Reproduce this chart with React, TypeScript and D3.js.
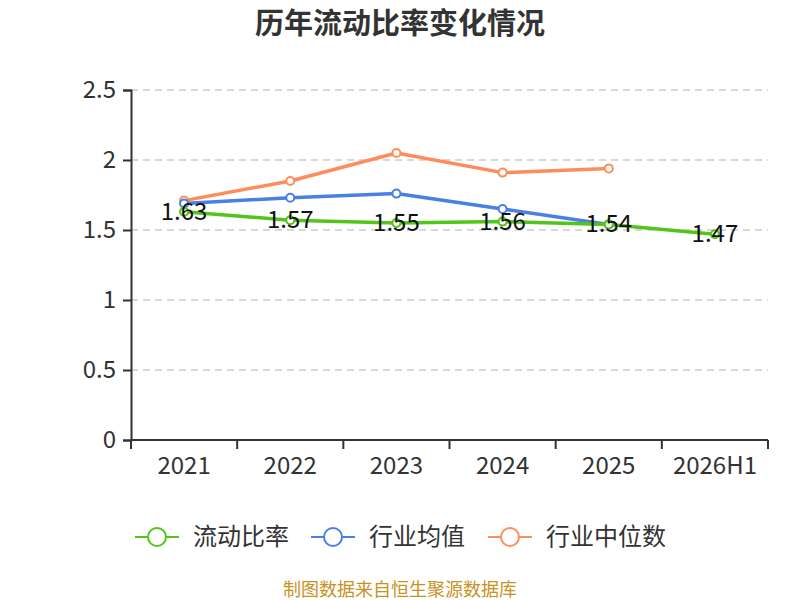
import React, { useEffect, useRef } from 'react';
import * as d3 from 'd3';

const categories = ['2021', '2022', '2023', '2024', '2025', '2026H1'];
const currentRatio = [1.63, 1.57, 1.55, 1.56, 1.54, 1.47];
const industryAvg = [1.69, 1.73, 1.76, 1.65, 1.54];
const industryMedian = [1.71, 1.85, 2.05, 1.91, 1.94];
const yTicks = [0, 0.5, 1, 1.5, 2, 2.5];

const seriesList = [
  { name: '流动比率', values: currentRatio, color: '#52c41a' },
  { name: '行业均值', values: industryAvg, color: '#4a7fe3' },
  { name: '行业中位数', values: industryMedian, color: '#ff8c5a' },
];

const FONT = '"Noto Sans CJK SC", "Noto Sans", sans-serif';

const App: React.FC = () => {
  const svgRef = useRef<SVGSVGElement>(null);

  useEffect(() => {
    if (!svgRef.current) return;
    const width = 800;
    const height = 600;
    const margin = { top: 90, right: 32, bottom: 160, left: 131 };
    const innerWidth = width - margin.left - margin.right;
    const innerHeight = height - margin.top - margin.bottom;

    const svg = d3.select(svgRef.current);
    svg.selectAll('*').remove();

    svg.append('rect').attr('width', width).attr('height', height).attr('fill', '#ffffff');

    const g = svg.append('g').attr('transform', `translate(${margin.left},${margin.top})`);

    const xScale = d3.scaleBand<string>().domain(categories).range([0, innerWidth]);
    const yScale = d3.scaleLinear().domain([0, 2.5]).range([innerHeight, 0]);
    const cx = (i: number) => (xScale(categories[i]) as number) + xScale.bandwidth() / 2;

    // grid lines
    g.append('g')
      .selectAll('line')
      .data(yTicks.filter(t => t > 0))
      .enter()
      .append('line')
      .attr('x1', 0)
      .attr('x2', innerWidth)
      .attr('y1', d => yScale(d))
      .attr('y2', d => yScale(d))
      .attr('stroke', '#cccccc')
      .attr('stroke-width', 1.5)
      .attr('stroke-dasharray', '7,5');

    // y axis
    const yAxis = g.append('g').call(
      d3.axisLeft(yScale).tickValues(yTicks).tickSize(8).tickPadding(7).tickFormat(d => `${d}`)
    );
    yAxis.select('.domain').attr('stroke', '#333333').attr('stroke-width', 2);
    yAxis.selectAll('.tick line').attr('stroke', '#333333').attr('stroke-width', 2);
    yAxis.selectAll('text')
      .attr('fill', '#333333')
      .attr('font-family', FONT)
      .attr('font-size', '24px');

    // x axis
    const xAxisGroup = g.append('g').attr('transform', `translate(0,${innerHeight})`);
    xAxisGroup.append('line')
      .attr('x1', 0)
      .attr('x2', innerWidth)
      .attr('stroke', '#333333')
      .attr('stroke-width', 2);
    const boundaries = categories.map(c => xScale(c) as number).concat([innerWidth]);
    xAxisGroup.selectAll('.xtick')
      .data(boundaries)
      .enter()
      .append('line')
      .attr('x1', d => d)
      .attr('x2', d => d)
      .attr('y1', 0)
      .attr('y2', 9)
      .attr('stroke', '#333333')
      .attr('stroke-width', 2);
    xAxisGroup.selectAll('.xlabel')
      .data(categories)
      .enter()
      .append('text')
      .attr('x', (d, i) => cx(i))
      .attr('y', 34)
      .attr('text-anchor', 'middle')
      .attr('fill', '#333333')
      .attr('font-family', FONT)
      .attr('font-size', '24px')
      .text(d => d);

    const line = d3.line<number>()
      .x((d, i) => cx(i))
      .y(d => yScale(d));

    // draw in reverse so green sits on top like the original
    [...seriesList].reverse().forEach(series => {
      g.append('path')
        .datum(series.values)
        .attr('fill', 'none')
        .attr('stroke', series.color)
        .attr('stroke-width', 3.5)
        .attr('stroke-linejoin', 'round')
        .attr('d', line);

      g.selectAll(null)
        .data(series.values)
        .enter()
        .append('circle')
        .attr('cx', (d, i) => cx(i))
        .attr('cy', d => yScale(d))
        .attr('r', 4)
        .attr('fill', '#ffffff')
        .attr('stroke', series.color)
        .attr('stroke-width', 2);
    });

    // value labels for the main series
    g.selectAll('.vlabel')
      .data(currentRatio)
      .enter()
      .append('text')
      .attr('x', (d, i) => cx(i))
      .attr('y', d => yScale(d) + 8)
      .attr('text-anchor', 'middle')
      .attr('fill', '#111111')
      .attr('font-family', FONT)
      .attr('font-size', '24px')
      .text(d => d.toFixed(2));

    // title
    svg.append('text')
      .attr('x', width / 2)
      .attr('y', 34)
      .attr('text-anchor', 'middle')
      .attr('fill', '#333333')
      .attr('font-family', FONT)
      .attr('font-size', '29px')
      .attr('font-weight', 'bold')
      .text('历年流动比率变化情况');

    // legend
    const legendX = [135, 311, 488];
    seriesList.forEach((series, i) => {
      const row = svg.append('g').attr('transform', `translate(${legendX[i]}, 537)`);
      row.append('line')
        .attr('x1', 0)
        .attr('x2', 44)
        .attr('stroke', series.color)
        .attr('stroke-width', 2);
      row.append('circle')
        .attr('cx', 22)
        .attr('r', 9)
        .attr('fill', '#ffffff')
        .attr('stroke', series.color)
        .attr('stroke-width', 2);
      row.append('text')
        .attr('x', 58)
        .attr('y', 8)
        .attr('fill', '#333333')
        .attr('font-family', FONT)
        .attr('font-size', '24px')
        .text(series.name);
    });

    // source note
    svg.append('text')
      .attr('x', width / 2)
      .attr('y', 596)
      .attr('text-anchor', 'middle')
      .attr('fill', '#c8921e')
      .attr('font-family', FONT)
      .attr('font-size', '18px')
      .text('制图数据来自恒生聚源数据库');
  }, []);

  return (
    <svg
      ref={svgRef}
      width={800}
      height={600}
      style={{ position: 'absolute', left: 0, top: 0, display: 'block' }}
    ></svg>
  );
};

export default App;
